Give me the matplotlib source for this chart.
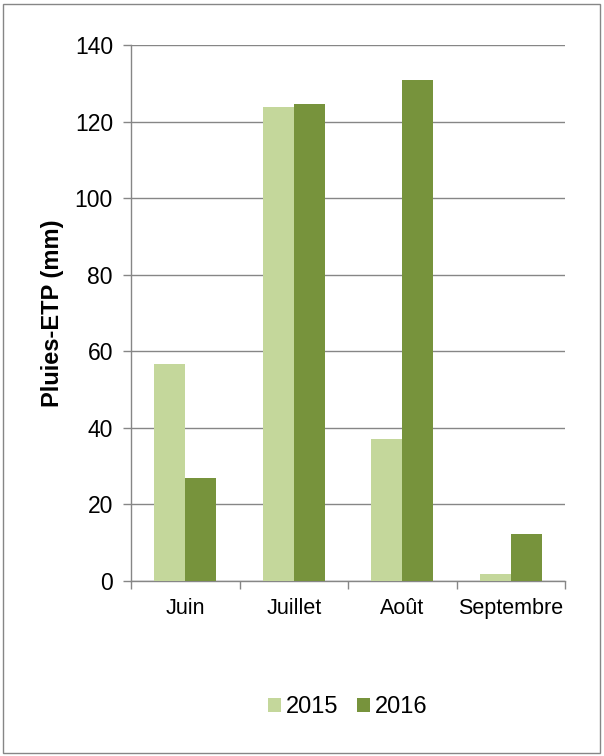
import matplotlib
matplotlib.use("Agg")
import matplotlib.pyplot as plt
import numpy as np
from matplotlib.patches import Rectangle

plt.rcParams['font.family'] = ['Liberation Sans', 'DejaVu Sans']

months = ['Juin', 'Juillet', 'Août', 'Septembre']
v2015 = [56.7, 123.8, 37.0, 1.7]
v2016 = [27.0, 124.5, 130.8, 12.4]

c2015 = '#C4D79B'
c2016 = '#77933C'
grey = '#868686'

fig = plt.figure(figsize=(6.04, 7.56), dpi=100)
ax = fig.add_axes([131/604, 1 - 581/756, (565-131)/604, (581-45)/756])

x = np.arange(len(months))
w = 0.285
ax.bar(x - w/2, v2015, w, color=c2015, label='2015', zorder=3)
ax.bar(x + w/2, v2016, w, color=c2016, label='2016', zorder=3)

ax.set_xlim(-0.5, len(months) - 0.5)
ax.set_ylim(0, 140)
ax.set_yticks(range(0, 141, 20))
ax.grid(axis='y', color=grey, linewidth=1, zorder=0)
ax.set_axisbelow(True)

ax.set_xticks(x)
ax.set_xticklabels(months, fontsize=15.5)
ax.set_xticks(np.arange(-0.5, len(months)), minor=True)
ax.tick_params(axis='x', which='major', length=0, pad=12)
ax.tick_params(axis='x', which='minor', length=6, color=grey, width=1)
ax.tick_params(axis='y', length=6, color=grey, width=1, labelsize=16.5, pad=7)

for s in ['top', 'right']:
    ax.spines[s].set_visible(False)
for s in ['left', 'bottom']:
    ax.spines[s].set_color(grey)
    ax.spines[s].set_linewidth(1)

ax.set_ylabel('Pluies-ETP (mm)', fontsize=17, fontweight='bold', labelpad=8)

fig.legend(loc='center', bbox_to_anchor=(348/604, 1 - 707/756), ncol=2,
           frameon=False, fontsize=17, handlelength=0.55, handleheight=0.55,
           handletextpad=0.2, columnspacing=0.8)

fig.patches.append(Rectangle((3/604, 3/756), 597/604, 749/756, transform=fig.transFigure,
                             fill=False, edgecolor=grey, linewidth=1))

fig.savefig('out.png', dpi=100)
